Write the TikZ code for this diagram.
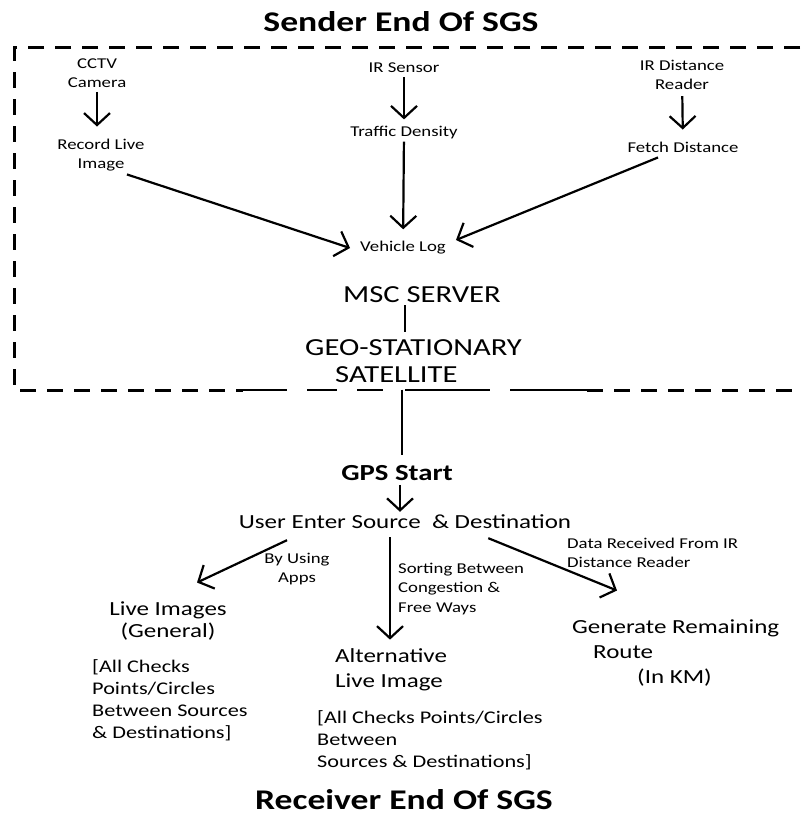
\documentclass[tikz,border=0pt]{standalone}
\usepackage{fontspec}
\setmainfont{Carlito}[FakeStretch=1.25]
\usetikzlibrary{arrows.meta}

\begin{document}
\begin{tikzpicture}[x=1pt,y=-1pt,>={Straight Barb[length=12pt,width=26pt]},
    txt/.style={inner sep=0pt,align=center},
    sml/.style={txt,font=\fontsize{15}{19.5}\selectfont},
    med/.style={txt,align=left,font=\fontsize{17.8}{22}\selectfont},
    nrm/.style={txt,font=\fontsize{20}{25}\selectfont},
    big/.style={txt,font=\fontsize{24.5}{27}\selectfont},
    hdr/.style={txt,font=\bfseries\fontsize{28.5}{34}\selectfont},
    flow/.style={line width=2.2pt},
    bound/.style={line width=3pt,dash pattern=on 16pt off 11pt}]
      \useasboundingbox (0,0) rectangle (800,816);

      \node[hdr] (send) at (401,22) {Sender End Of SGS};
      \node[sml] (cctv) at (97,73) {CCTV\\Camera};
      \node[sml] (rec) at (101,155) {Record Live\\Image};
      \node[sml] (irs) at (404,68) {IR Sensor};
      \node[sml] (dens) at (404,133) {Traffic Density};
      \node[sml] (irdr) at (682,75) {IR Distance\\Reader};
      \node[sml] (fetch) at (683,147) {Fetch Distance};
      \node[sml] (vlog) at (403,248) {Vehicle Log};
      \node[big] (msc) at (422,295) {MSC SERVER};
      \node[big,align=left,anchor=west] (geo) at (305,361) {GEO-STATIONARY\\\hspace*{30pt}SATELLITE};

      \node[txt,font=\bfseries\fontsize{23}{27}\selectfont] (gps) at (397,473) {GPS Start};
      \node[nrm] (user) at (405,522) {User Enter Source~ \& Destination};
      \node[sml] (apps) at (297,569) {By Using\\Apps};
      \node[nrm,font=\fontsize{20}{22}\selectfont] (live) at (168,621) {Live Images\\(General)};
      \node[med,anchor=west] (chk1) at (92,700) {[All Checks\\Points/Circles\\Between Sources\\\& Destinations]};
      \node[sml,align=left,anchor=west] (sort) at (398,589) {Sorting Between\\Congestion \&\\Free Ways};
      \node[nrm,align=left,anchor=west] (alt) at (335,670) {Alternative\\Live Image};
      \node[med,anchor=west] (chk2) at (317,740) {[All Checks Points/Circles\\Between\\Sources \& Destinations]};
      \node[sml,align=left,anchor=west] (data) at (567,553) {Data Received From IR\\Distance Reader};
      \node[nrm,align=left,anchor=west] (gen) at (572,653) {Generate Remaining\\\hspace*{21pt}Route\\\hspace*{65pt}(In KM)};
      \node[hdr] (recv) at (404,800) {Receiver End Of SGS};

      \draw[bound] (800,48) -- (14,48) -- (14,390) -- (243,390);
      \draw[line width=2pt] (243,390) -- (287,390) (307,390) -- (337,390) (357,390) -- (383,390) (405,390) -- (490,390) (510,390) -- (587,390);
      \draw[bound] (587,390) -- (800,390);

      \draw[flow,->,shorten <=4pt,shorten >=12pt] (cctv.south) -- (cctv.south |- rec.north);
      \draw[flow,->,shorten <=4pt,shorten >=7pt] (irs) -- (dens);
      \draw[flow,->,shorten <=2pt,shorten >=12pt] (dens) -- (vlog);
      \draw[flow,->,shorten <=6pt,shorten >=12pt] (irdr) -- (fetch);
      \draw[flow,->] ([xshift=26pt,yshift=-3pt]rec.south) -- ([xshift=-10pt]vlog.west);
      \draw[flow,->] ([xshift=-25pt,yshift=-5pt]fetch.south) -- ([xshift=10pt,yshift=8pt]vlog.east);
      \draw[flow,shorten <=2pt,shorten >=7pt] ([xshift=-17pt]msc.south) -- ([xshift=-17pt]msc.south |- geo.north);
      \draw[flow,shorten <=7pt,shorten >=10pt] ([xshift=5pt]gps.north |- geo.south) -- ([xshift=5pt]gps.north);
      \draw[flow,->,shorten <=4pt,shorten >=3pt] ([xshift=3pt]gps.south) -- ([xshift=3pt]gps.south |- user.north);
      \draw[flow,->] ([xshift=-118pt,yshift=-11pt]user.south) -- ([xshift=29pt,yshift=19pt]live.north);
      \draw[flow,->,shorten <=8pt,shorten >=9pt] ([xshift=-15pt]user.south) -- ([xshift=-15pt]user.south |- alt.north);
      \draw[flow,->] ([xshift=-83pt,yshift=-9pt]user.south east) -- ([xshift=45pt,yshift=29pt]gen.north west);
\end{tikzpicture}
\end{document}
